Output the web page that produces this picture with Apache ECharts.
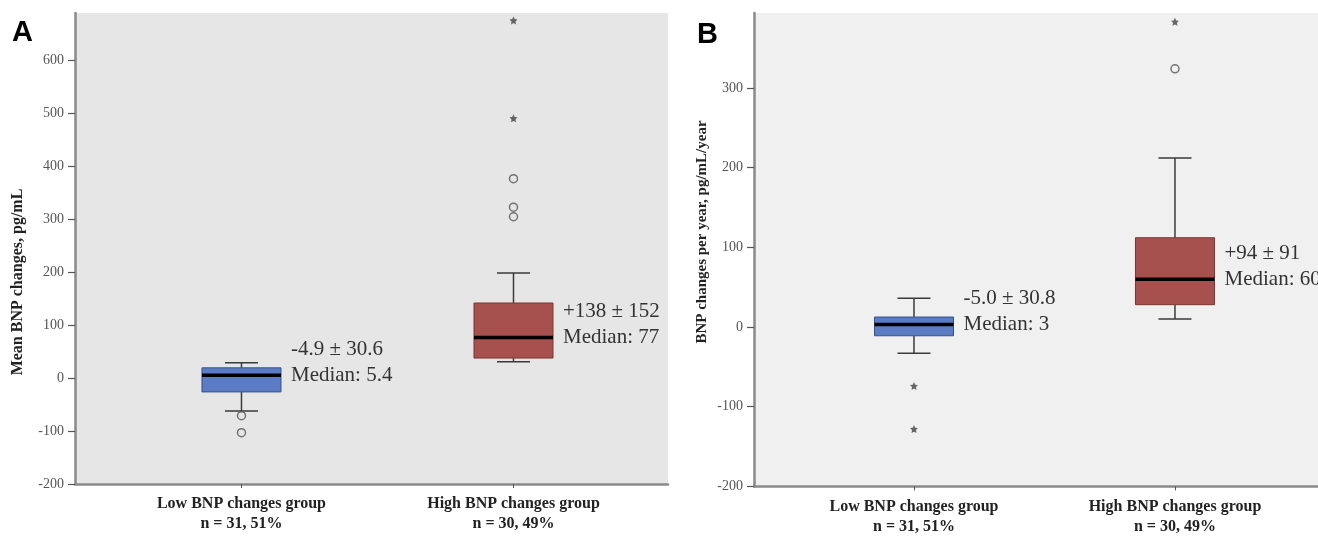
<!DOCTYPE html>
<html>
<head>
<meta charset="utf-8">
<script src="https://cdn.jsdelivr.net/npm/echarts@6/dist/echarts.min.js"></script>
<style>
html,body{margin:0;padding:0;background:#fff;}
#chart{width:1318px;height:537px;}
</style>
</head>
<body>
<div id="chart"></div>
<script>
// ---------- data ----------
const categories = ['Low BNP changes group\nn = 31, 51%', 'High BNP changes group\nn = 30, 49%'];
const groupPos = [1, 2];
const yTicksA = [-200, -100, 0, 100, 200, 300, 400, 500, 600];
const yTicksB = [-200, -100, 0, 100, 200, 300];

// box stats: [min, Q1, median, Q3, max]
const boxA_low  = [-62, -26, 5.4, 19.5, 29];
const boxA_high = [31, 38, 77, 142, 198.5];
const boxB_low  = [-33, -11, 3, 12.5, 36];
const boxB_high = [10, 28, 60, 112, 212];

// outliers (circles) and extremes (stars)
const circA_low  = [-71, -103];
const circA_high = [377, 323, 305];
const starA_high = [676, 491];
const starB_low  = [-74, -128];
const circB_high = [324];
const starB_high = [383];

const meanA = ['-4.9 \u00b1 30.6', '+138 \u00b1 152'];
const medA  = ['Median: 5.4', 'Median: 77'];
const meanB = ['-5.0 \u00b1 30.8', '+94 \u00b1 91'];
const medB  = ['Median: 3', 'Median: 60'];

// ---------- styles ----------
const boxFill = ['#5b7cc4', '#a6514d'];
const boxStroke = ['#34508f', '#7b3531'];
const serif = '"Liberation Serif", "DejaVu Serif", serif';
const starPath = 'path://M0,-10 L2.9,-4 9.5,-3.1 4.7,1.5 5.9,8.1 0,5 -5.9,8.1 -4.7,1.5 -9.5,-3.1 -2.9,-4 Z';

function makeRender(means, meds) {
  return function (params, api) {
    const x = api.value(0);
    const mn = api.value(1), q1 = api.value(2), md = api.value(3), q3 = api.value(4), mx = api.value(5);
    const c = v => api.coord([x, v]);
    const pMin = c(mn), pQ1 = c(q1), pMd = c(md), pQ3 = c(q3), pMax = c(mx);
    const cx = pMd[0];
    const hw = 39.5, cap = 16.5;
    const i = params.dataIndex;
    const wStyle = { stroke: '#3a3a3a', lineWidth: 1.5 };
    return {
      type: 'group',
      children: [
        { type: 'line', shape: { x1: cx, y1: pMax[1], x2: cx, y2: pQ3[1] }, style: wStyle },
        { type: 'line', shape: { x1: cx, y1: pQ1[1], x2: cx, y2: pMin[1] }, style: wStyle },
        { type: 'line', shape: { x1: cx - cap, y1: pMax[1], x2: cx + cap, y2: pMax[1] }, style: wStyle },
        { type: 'line', shape: { x1: cx - cap, y1: pMin[1], x2: cx + cap, y2: pMin[1] }, style: wStyle },
        { type: 'rect', shape: { x: cx - hw, y: pQ3[1], width: 2 * hw, height: pQ1[1] - pQ3[1] },
          style: { fill: boxFill[i], stroke: boxStroke[i], lineWidth: 1 } },
        { type: 'line', shape: { x1: cx - hw, y1: pMd[1], x2: cx + hw, y2: pMd[1] },
          style: { stroke: '#000', lineWidth: 3.5 } },
        { type: 'text', x: cx + hw + 10, y: pMd[1] - 26,
          style: { text: means[i], font: '21px ' + serif, fill: '#333', align: 'left', verticalAlign: 'middle' } },
        { type: 'text', x: cx + hw + 10, y: pMd[1],
          style: { text: meds[i], font: '21px ' + serif, fill: '#333', align: 'left', verticalAlign: 'middle' } }
      ]
    };
  };
}

const pts = (x, arr) => arr.map(v => [x, v]);

function xAxisCfg(gridIndex, min, max) {
  return {
    type: 'value', gridIndex, min, max,
    splitLine: { show: false },
    axisLine: { show: true, onZero: false, lineStyle: { color: '#8a8a8a', width: 2.5 } },
    axisTick: { show: true, length: 4, customValues: groupPos, lineStyle: { color: '#555' } },
    axisLabel: {
      customValues: groupPos, margin: 10,
      formatter: v => categories[groupPos.indexOf(Math.round(v))] || '',
      fontFamily: serif, fontSize: 16, fontWeight: 'bold', color: '#222', lineHeight: 20
    }
  };
}
function yAxisCfg(gridIndex, min, max, ticks) {
  return {
    type: 'value', gridIndex, min, max,
    splitLine: { show: false },
    axisLine: { show: true, lineStyle: { color: '#8a8a8a', width: 2.5 } },
    axisTick: { show: true, length: 7, customValues: ticks, lineStyle: { color: '#555', width: 1.2 } },
    axisLabel: { customValues: ticks, margin: 11, fontFamily: serif, fontSize: 14, color: '#555' }
  };
}

const circleStyle = { color: 'transparent', borderColor: '#555', borderWidth: 1.5 };

const option = {
  animation: false,
  grid: [
    { left: 75, top: 13, width: 593, height: 471, show: true, backgroundColor: '#e6e6e6', borderWidth: 0 },
    { left: 754, top: 13, width: 564, height: 473.4, show: true, backgroundColor: '#f0f0f0', borderWidth: 0 }
  ],
  xAxis: [xAxisCfg(0, 0.388, 2.568), xAxisCfg(1, 0.387, 2.548)],
  yAxis: [yAxisCfg(0, -200, 690, yTicksA), yAxisCfg(1, -200, 394, yTicksB)],
  series: [
    { type: 'custom', xAxisIndex: 0, yAxisIndex: 0, renderItem: makeRender(meanA, medA),
      encode: { x: 0, y: [1, 2, 3, 4, 5] },
      data: [[groupPos[0]].concat(boxA_low), [groupPos[1]].concat(boxA_high)] },
    { type: 'custom', xAxisIndex: 1, yAxisIndex: 1, renderItem: makeRender(meanB, medB),
      encode: { x: 0, y: [1, 2, 3, 4, 5] },
      data: [[groupPos[0]].concat(boxB_low), [groupPos[1]].concat(boxB_high)] },
    { type: 'scatter', xAxisIndex: 0, yAxisIndex: 0, symbol: 'circle', symbolSize: 8, itemStyle: circleStyle,
      data: pts(groupPos[0], circA_low).concat(pts(groupPos[1], circA_high)) },
    { type: 'scatter', xAxisIndex: 0, yAxisIndex: 0, symbol: starPath, symbolSize: 8, itemStyle: { color: '#444' },
      data: pts(groupPos[1], starA_high) },
    { type: 'scatter', xAxisIndex: 1, yAxisIndex: 1, symbol: 'circle', symbolSize: 8, itemStyle: circleStyle,
      data: pts(groupPos[1], circB_high) },
    { type: 'scatter', xAxisIndex: 1, yAxisIndex: 1, symbol: starPath, symbolSize: 8, itemStyle: { color: '#444' },
      data: pts(groupPos[0], starB_low).concat(pts(groupPos[1], starB_high)) }
  ],
  graphic: [
    { type: 'text', left: 12, top: 18, style: { text: 'A', font: 'bold 29px "Liberation Sans", Arial, sans-serif', fill: '#000' } },
    { type: 'text', left: 697, top: 20, style: { text: 'B', font: 'bold 29px "Liberation Sans", Arial, sans-serif', fill: '#000' } },
    { type: 'text', x: 18, y: 282, rotation: Math.PI / 2,
      style: { text: 'Mean BNP changes, pg/mL', font: 'bold 16px ' + serif, fill: '#222', align: 'center', verticalAlign: 'middle' } },
    { type: 'text', x: 702, y: 232, rotation: Math.PI / 2,
      style: { text: 'BNP changes per year, pg/mL/year', font: 'bold 15px ' + serif, fill: '#222', align: 'center', verticalAlign: 'middle' } }
  ]
};

const chart = echarts.init(document.getElementById('chart'), null, { renderer: 'canvas' });
chart.setOption(option);
</script>
</body>
</html>
